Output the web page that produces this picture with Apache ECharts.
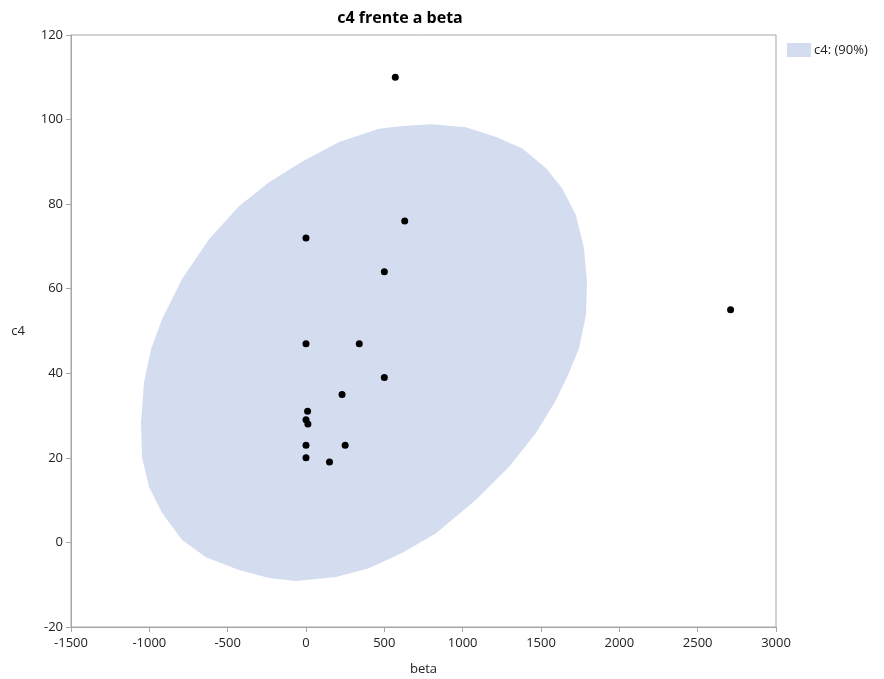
<!DOCTYPE html>
<html>
<head>
<meta charset="utf-8">
<script src="https://cdn.jsdelivr.net/npm/echarts@6/dist/echarts.min.js"></script>
<style>html,body{margin:0;padding:0;background:#fff}#c{width:884px;height:679px}</style>
</head>
<body>
<div id="c"></div>
<script>
// Observed points (beta, c4)
const betaValues = [570, 0, 630, 500, 0, 340, 500, 230, 10, 0, 12, 0, 250, 0, 150, 2710];
const c4Values   = [110, 72, 76, 64, 47, 47, 39, 35, 31, 29, 28, 23, 23, 20, 19, 55];

// 90% density ellipse boundary (beta, c4)
const ellipseBeta = [804, 1021, 1213, 1379, 1532, 1634, 1723, 1774, 1794, 1787, 1743, 1679, 1596, 1468, 1296, 1085, 830, 613, 402, 192, -64, -236, -428, -638, -791, -919, -1002, -1047, -1053, -1034, -989, -919, -791, -619, -428, -236, -26, 211, 466, 613];
const ellipseC4   = [98.9, 98.2, 95.9, 93.2, 88.5, 83.8, 77.4, 69.6, 61.6, 53.8, 46.0, 40.1, 33.7, 25.9, 17.9, 10.1, 2.2, -2.5, -6.1, -8.2, -9.1, -8.4, -6.5, -3.5, 0.6, 7.0, 13.1, 20.2, 28.3, 37.8, 45.7, 52.8, 62.3, 71.7, 79.5, 85.2, 90.0, 94.7, 97.8, 98.5];

const xTicks = [-1500, 3000, 500];
const yTicks = [-20, 120, 20];

const chartTitle = 'c4 frente a beta';
const xName = 'beta';
const yName = 'c4';
const ellipseName = 'c4: (90%)';

const points = betaValues.map((b, i) => [b, c4Values[i]]);
const ellipse = ellipseBeta.map((b, i) => [b, ellipseC4[i]]);

const FONT = '"Open Sans", "Noto Sans", sans-serif';
const AX = '#a6a6a6';
const FILL = '#d4dcef';

const chart = echarts.init(document.getElementById('c'), null, {renderer: 'canvas'});
chart.setOption({
  animation: false,
  backgroundColor: '#fff',
  title: {
    text: chartTitle,
    left: 395, top: 5, textAlign: 'center',
    textStyle: {fontFamily: FONT, fontSize: 16, fontWeight: 'bold', color: '#000'}
  },
  legend: {
    data: [{name: ellipseName, icon: 'rect'}],
    left: 782, top: 38,
    itemWidth: 24, itemHeight: 14, itemGap: 6,
    textStyle: {fontFamily: FONT, fontSize: 13, color: '#222', padding: [0, 0, 0, -2]},
    selectedMode: false
  },
  grid: {
    left: 71, right: 108, top: 35, bottom: 52,
    outerBoundsMode: 'none', containLabel: false,
    show: true, borderColor: AX, borderWidth: 1, backgroundColor: 'transparent'
  },
  xAxis: {
    type: 'value', min: xTicks[0], max: xTicks[1], interval: xTicks[2],
    name: xName, nameLocation: 'middle', nameGap: 36,
    nameTextStyle: {fontFamily: FONT, fontSize: 13, color: '#222'},
    axisLine: {show: true, onZero: false, lineStyle: {color: AX}},
    axisTick: {show: true, length: 5, lineStyle: {color: AX}},
    axisLabel: {fontFamily: FONT, fontSize: 13, color: '#222', margin: 10,
                formatter: v => String(v)},
    splitLine: {show: false}
  },
  yAxis: {
    type: 'value', min: yTicks[0], max: yTicks[1], interval: yTicks[2],
    name: yName, nameLocation: 'middle', nameRotate: 0, nameGap: 46,
    nameTextStyle: {fontFamily: FONT, fontSize: 13, color: '#222'},
    axisLine: {show: true, onZero: false, lineStyle: {color: AX}},
    axisTick: {show: true, length: 5, lineStyle: {color: AX}},
    axisLabel: {fontFamily: FONT, fontSize: 13, color: '#222', margin: 8},
    splitLine: {show: false}
  },
  series: [
    {
      name: ellipseName,
      type: 'custom',
      coordinateSystem: 'cartesian2d',
      itemStyle: {color: FILL},
      data: ellipse,
      encode: {x: 0, y: 1},
      renderItem: function (params, api) {
        if (params.dataIndex !== 0) return null;
        const pts = ellipse.map(p => api.coord(p));
        return {
          type: 'polygon',
          shape: {points: pts},
          style: {fill: FILL, stroke: null}
        };
      },
      z: 1
    },
    {
      name: 'points',
      type: 'scatter',
      data: points,
      symbol: 'circle',
      symbolSize: 7,
      itemStyle: {color: '#000', opacity: 1},
      z: 3
    }
  ]
});
</script>
</body>
</html>
